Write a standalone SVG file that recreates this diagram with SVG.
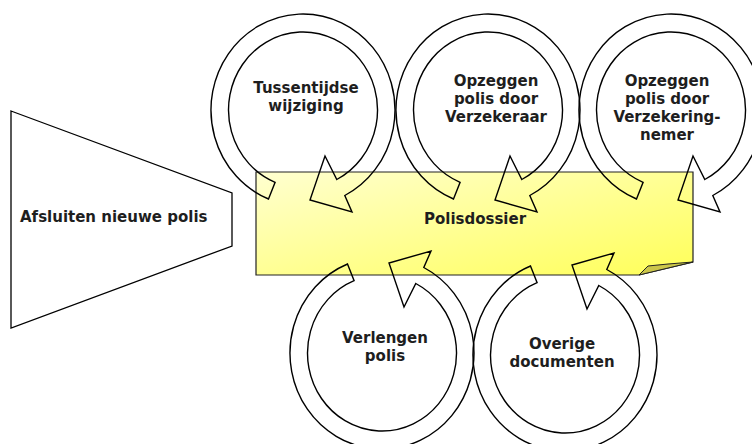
<svg xmlns="http://www.w3.org/2000/svg" xmlns:xlink="http://www.w3.org/1999/xlink" width="752" height="444" viewBox="0 0 752 444">
<style>
.lbl{font-family:"DejaVu Sans","Verdana",sans-serif;font-weight:bold;font-size:15px;fill:#1e1e1e;text-anchor:middle}
.ring{fill:none;stroke:#000;stroke-width:1.4;stroke-linejoin:miter}
.trap{fill:#fff;stroke:#000;stroke-width:1.3}
</style>
<defs>
<linearGradient id="yel" x1="0" y1="0" x2="1" y2="1">
<stop offset="0" stop-color="#ffffd0"/>
<stop offset="1" stop-color="#ffff58"/>
</linearGradient>
<path id="ring" d="M-34.5,89 L-27.9,72.3 A74.5,78 0 1 1 33.8,69.5 L22,46 L7,90 L49,102 L41.8,85.5 A92,96 0 1 0 -34.5,89 Z"/>
</defs>
<rect width="752" height="444" fill="#fff"/>
<g id="afsluiten">
<polygon class="trap" points="11,111 232,193 232,246 11,328"/>
<text class="lbl" x="20" y="222" style="text-anchor:start">Afsluiten nieuwe polis</text>
</g>
<g id="polisdossier">
<path d="M256,172 H693 V262 L639,275 H256 Z" fill="url(#yel)" stroke="#222" stroke-width="1.2"/>
<path d="M639,275 L648,266 L668,264 L693,262 Z" fill="#cbc64a" stroke="#222" stroke-width="1"/>
<text class="lbl" x="475" y="224">Polisdossier</text>
</g>
<g id="connectors">
<use href="#ring" class="ring" transform="translate(303,110)"/>
<use href="#ring" class="ring" transform="translate(488,110)"/>
<use href="#ring" class="ring" transform="translate(671,110)"/>
<use href="#ring" class="ring" transform="translate(382,353) scale(1,-1)"/>
<use href="#ring" class="ring" transform="translate(565,355) scale(1,-1)"/>
</g>
<g id="tussentijdse">
<text class="lbl" x="306" y="93">Tussentijdse</text>
<text class="lbl" x="306" y="111">wijziging</text>
</g>
<g id="opzeggen-verzekeraar">
<text class="lbl" x="496" y="86">Opzeggen</text>
<text class="lbl" x="496" y="104">polis door</text>
<text class="lbl" x="496" y="122">Verzekeraar</text>
</g>
<g id="opzeggen-verzekeringnemer">
<text class="lbl" x="667" y="86">Opzeggen</text>
<text class="lbl" x="667" y="104">polis door</text>
<text class="lbl" x="667" y="122">Verzekering-</text>
<text class="lbl" x="667" y="140">nemer</text>
</g>
<g id="verlengen">
<text class="lbl" x="385" y="343">Verlengen</text>
<text class="lbl" x="385" y="361">polis</text>
</g>
<g id="overige">
<text class="lbl" x="562" y="349">Overige</text>
<text class="lbl" x="562" y="367">documenten</text>
</g>
</svg>
